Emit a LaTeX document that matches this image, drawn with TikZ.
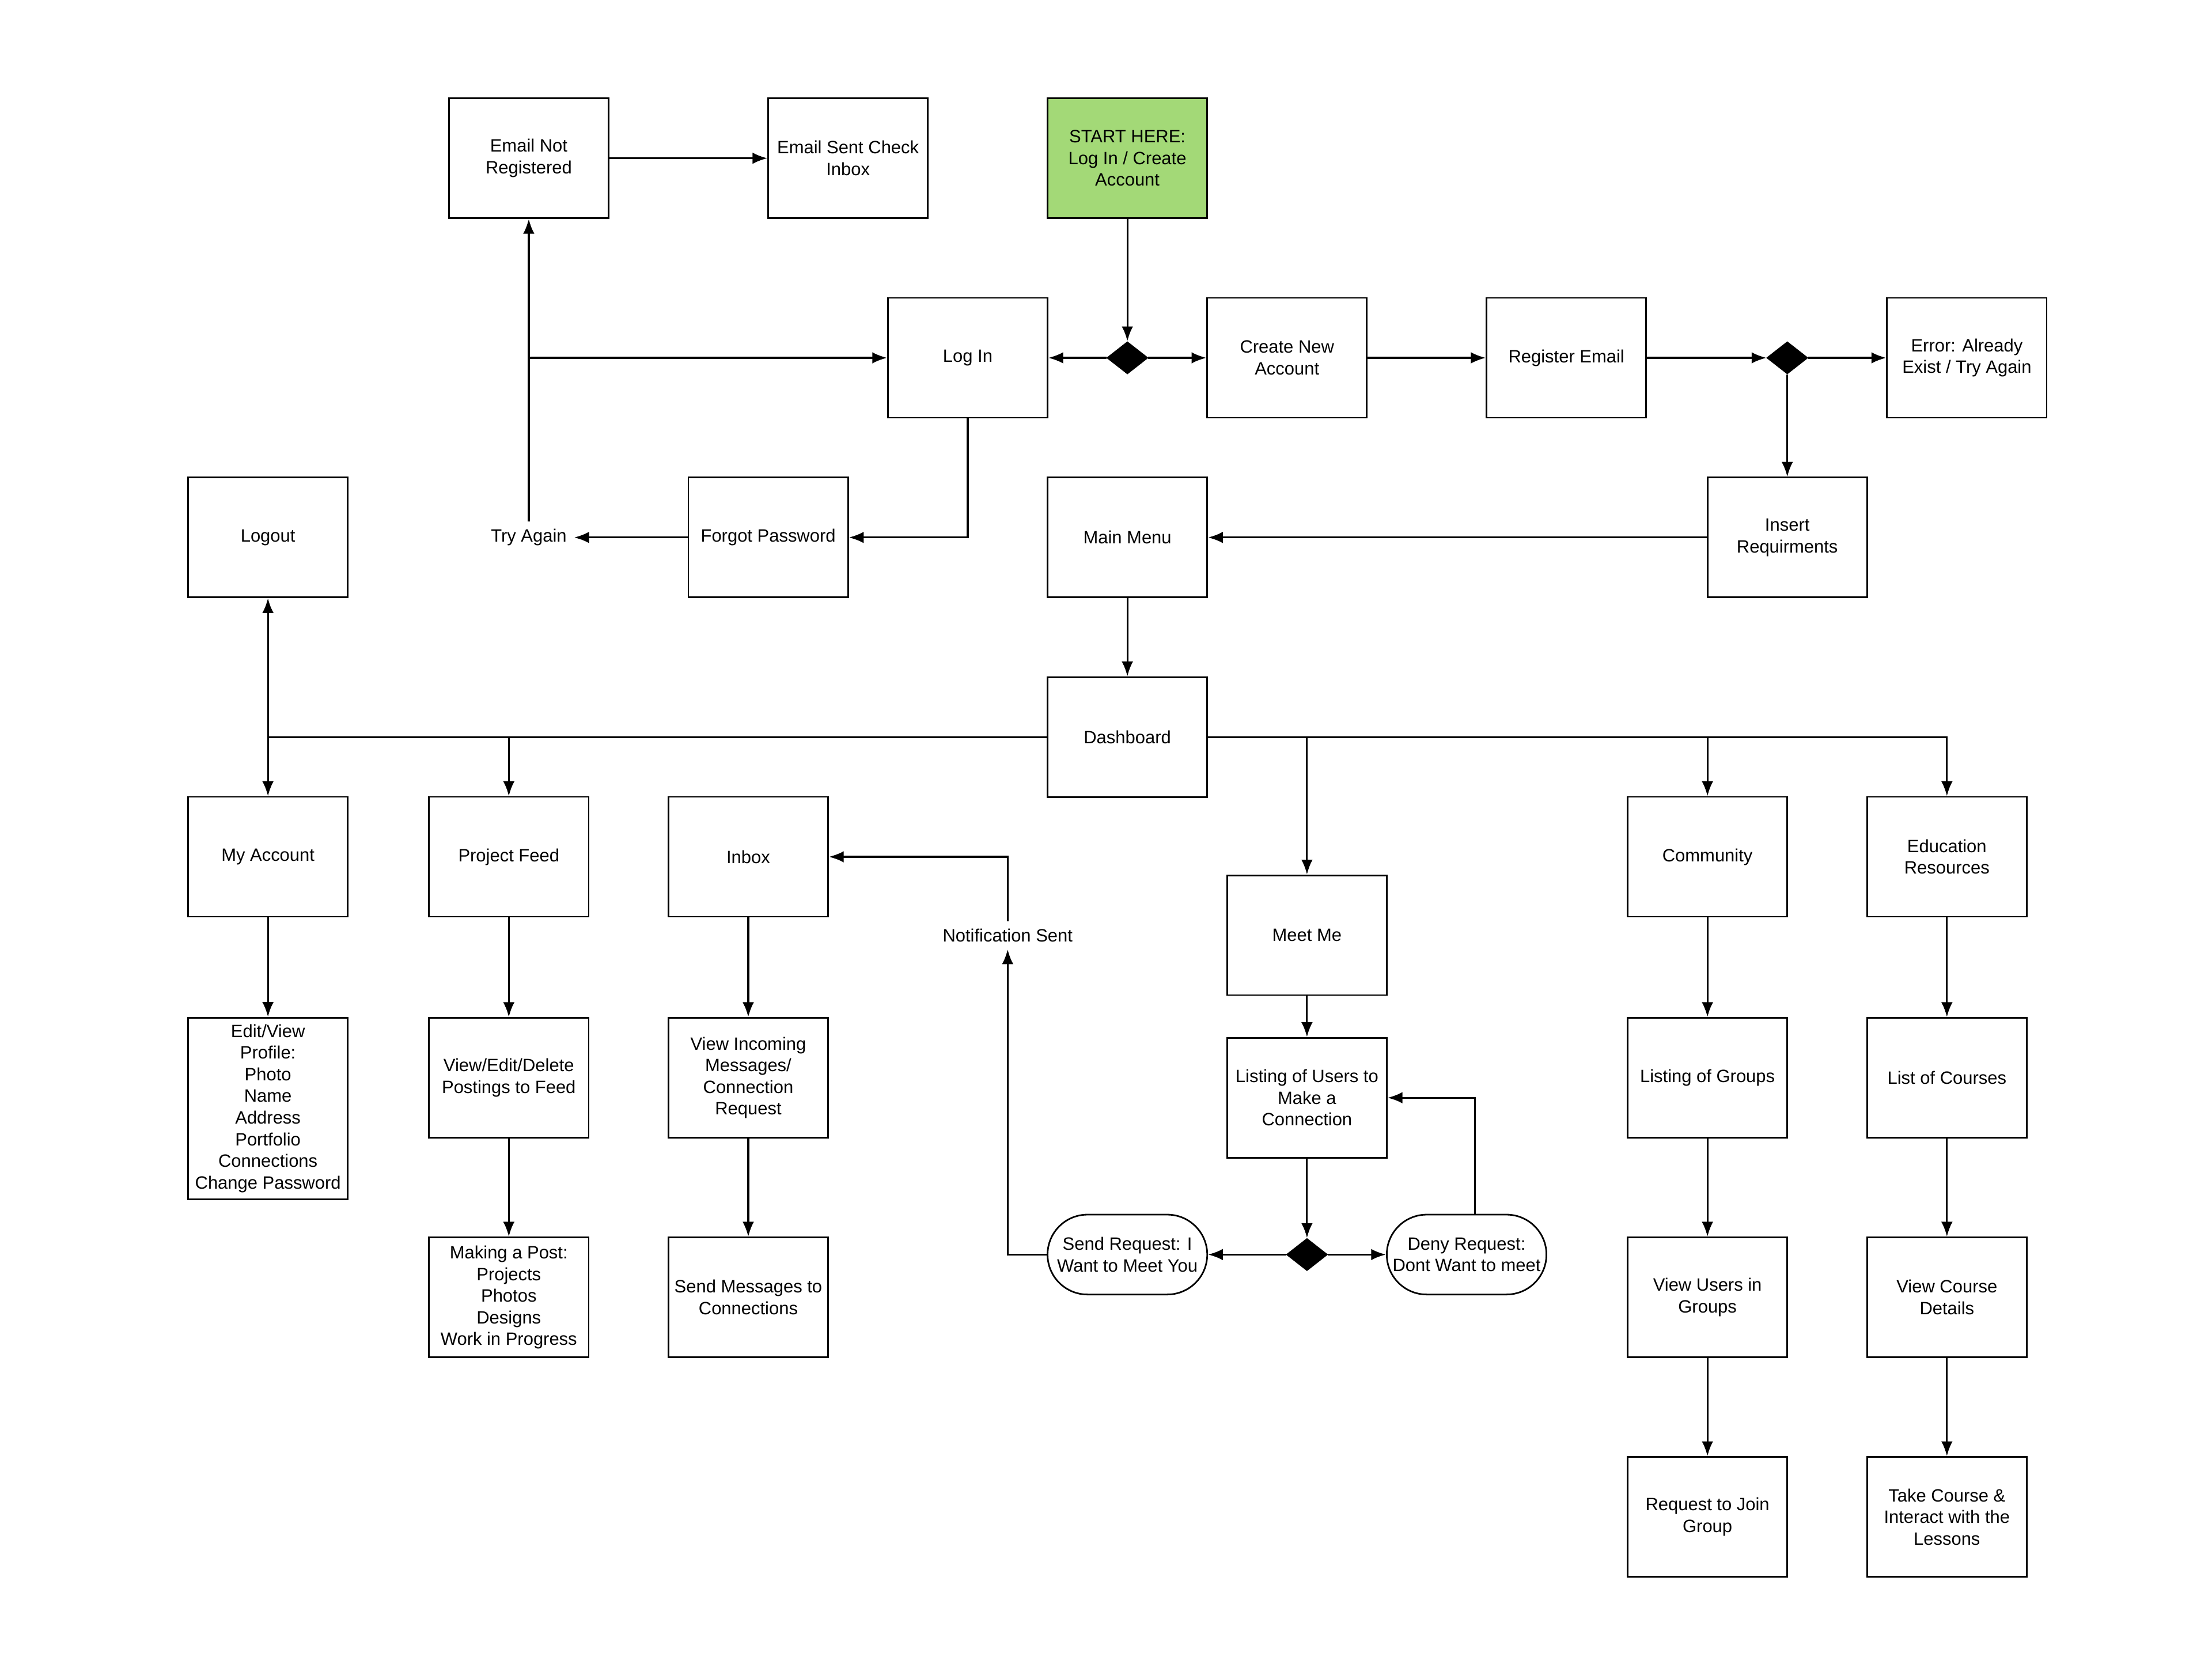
\documentclass[tikz,border=0pt]{standalone}
\usepackage{fontspec}
\setmainfont{Liberation Sans}
\usetikzlibrary{shapes.geometric, positioning}
\usetikzlibrary{arrows.meta}
\tikzset{>={Latex[width=2mm,length=2.6mm]}}
\definecolor{startgreen}{HTML}{A3D977}

\begin{document}
\begin{tikzpicture}[x=0.025cm, y=-0.025cm, line width=0.9pt, font=\fontsize{8.9}{10.8}\selectfont, box/.style={rectangle, draw=black, thick, minimum width=2.8cm, minimum height=2.1cm, align=center, inner sep=1pt}, roundbox/.style={rectangle, rounded corners=0.7cm, draw=black, thick, minimum width=2.8cm, minimum height=1.4cm, align=center, inner sep=1pt}, choice/.style={diamond, draw=black, fill=black, minimum width=0.7cm, minimum height=0.55cm, inner sep=0pt}, textnode/.style={draw=none, fill=none, align=center}]
    \useasboundingbox (0,0) rectangle (1552,1164);

    %Nodes
    \node[box](notreg) at (371,111){Email Not\\Registered};
    \node[box](sent) at (595,111){Email Sent Check\\Inbox};
    \node[box, fill=startgreen](start) at (791,111){START HERE:\\Log In / Create\\Account};
    \node[box](login) at (679,251){Log In};
    \node[choice](d1) at (791,251){};
    \node[box](create) at (903,251){Create New\\Account};
    \node[box](register) at (1099,251){Register Email};
    \node[choice](d2) at (1254,251){};
    \node[box](error) at (1380,251){Error: Already\\Exist / Try Again};
    \node[box](logout) at (188,377){Logout};
    \node[textnode](tryagain) at (371,377){Try Again};
    \node[box](forgot) at (539,377){Forgot Password};
    \node[box](mainmenu) at (791,377){Main Menu};
    \node[box](insert) at (1254,377){Insert\\Requirments};
    \node[box](dashboard) at (791,517){Dashboard};
    \node[box](account) at (188,601){My Account};
    \node[box](feed) at (357,601){Project Feed};
    \node[box](inbox) at (525,601){Inbox};
    \node[textnode](notify) at (707,656){Notification Sent};
    \node[box](meetme) at (917,656){Meet Me};
    \node[box](community) at (1198,601){Community};
    \node[box](education) at (1366,601){Education\\Resources};
    \node[box, minimum height=3.18cm](profile) at (188,777.5){Edit/View\\Profile:\\Photo\\Name\\Address\\Portfolio\\Connections\\Change Password};
    \node[box](postings) at (357,756){View/Edit/Delete\\Postings to Feed};
    \node[box](incoming) at (525,756){View Incoming\\Messages/\\Connection\\Request};
    \node[box](listusers) at (917,770){Listing of Users to\\Make a\\Connection};
    \node[box](listgroups) at (1198,756){Listing of Groups};
    \node[box](courses) at (1366,756){List of Courses};
    \node[box](post) at (357,910){Making a Post:\\Projects\\Photos\\Designs\\Work in Progress};
    \node[box](sendmsg) at (525,910){Send Messages to\\Connections};
    \node[roundbox](request) at (791,880){Send Request: I\\Want to Meet You};
    \node[choice](d3) at (917,880){};
    \node[roundbox](deny) at (1029,880){Deny Request:\\Dont Want to meet};
    \node[box](viewusers) at (1198,910){View Users in\\Groups};
    \node[box](details) at (1366,910){View Course\\Details};
    \node[box](join) at (1198,1064){Request to Join\\Group};
    \node[box](take) at (1366,1064){Take Course \&\\Interact with the\\Lessons};

    %Lines
    \draw[->] (start.south) -- (d1.north);
    \draw[->] (d1.west) -- (login.east);
    \draw[->] (d1.east) -- (create.west);
    \draw[->] (create.east) -- (register.west);
    \draw[->] (register.east) -- (d2.west);
    \draw[->] (d2.east) -- (error.west);
    \draw[->] (d2.south) -- (insert.north);
    \draw[->] (insert.west) -- (mainmenu.east);
    \draw[->] (mainmenu.south) -- (dashboard.north);
    \draw[->] (login.south) |- (forgot.east);
    \draw[->] (forgot.west) -- (tryagain.east);
    \draw[->] (tryagain.north) -- (notreg.south);
    \draw[->] (tryagain.north |- login.west) -- (login.west);
    \draw[->] (notreg.east) -- (sent.west);
    \draw (dashboard.west) -- (account.north |- dashboard.west);
    \draw[->] (account.north |- dashboard.west) -- (account.north);
    \draw[->] (account.north |- dashboard.west) -- (logout.south);
    \draw[->] (feed.north |- dashboard.west) -- (feed.north);
    \draw[->] (dashboard.east) -| (education.north);
    \draw[->] (meetme.north |- dashboard.east) -- (meetme.north);
    \draw[->] (community.north |- dashboard.east) -- (community.north);
    \draw[->] (account.south) -- (profile.north);
    \draw[->] (feed.south) -- (postings.north);
    \draw[->] (postings.south) -- (post.north);
    \draw[->] (inbox.south) -- (incoming.north);
    \draw[->] (incoming.south) -- (sendmsg.north);
    \draw[->] (meetme.south) -- (listusers.north);
    \draw[->] (listusers.south) -- (d3.north);
    \draw[->] (d3.west) -- (request.east);
    \draw[->] (d3.east) -- (deny.west);
    \draw[->] ([xshift=0.15cm]deny.north) |- (listusers.east);
    \draw[->] (request.west) -| (notify.south);
    \draw[->] (notify.north) |- (inbox.east);
    \draw[->] (community.south) -- (listgroups.north);
    \draw[->] (listgroups.south) -- (viewusers.north);
    \draw[->] (viewusers.south) -- (join.north);
    \draw[->] (education.south) -- (courses.north);
    \draw[->] (courses.south) -- (details.north);
    \draw[->] (details.south) -- (take.north);

\end{tikzpicture}
\end{document}
